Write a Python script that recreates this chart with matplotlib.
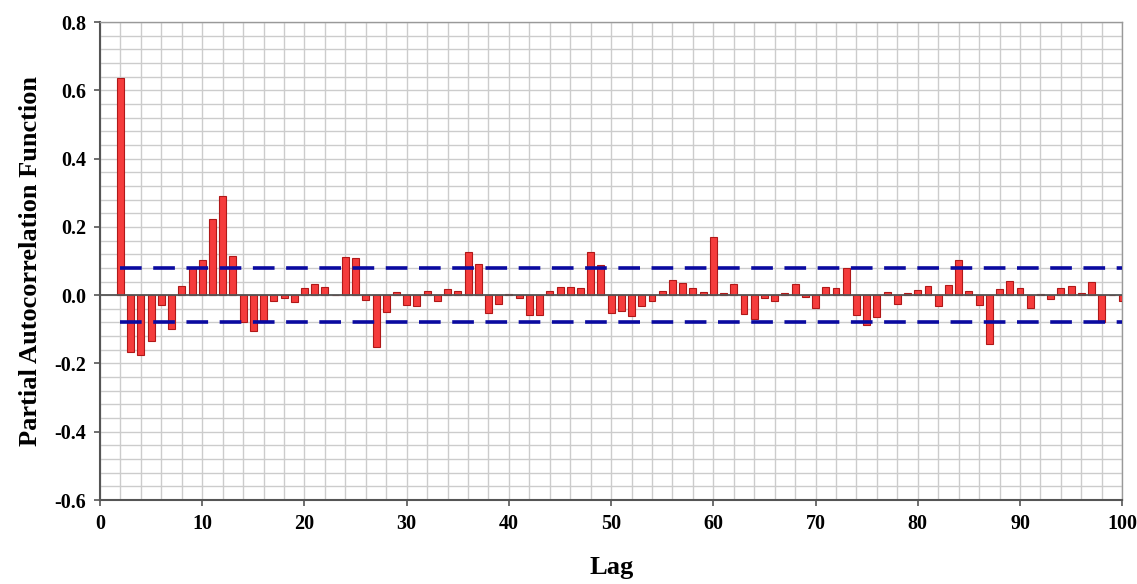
import numpy as np
import matplotlib
matplotlib.use('Agg')
import matplotlib.pyplot as plt
from matplotlib.ticker import MultipleLocator

# lags 2..100, values
lags = list(range(2, 101))
pacf = [0.635, -0.166, -0.174, -0.133, -0.030, -0.099, 0.026, 0.080, 0.104, 0.222,
        0.290, 0.114, -0.079, -0.106, -0.079, -0.016, -0.009, -0.020, 0.021, 0.032,
        0.023, 0.000, 0.111, 0.109, -0.013, -0.152, -0.050, 0.009, -0.029, -0.033,
        0.012, -0.016, 0.019, 0.012, 0.127, 0.092, -0.052, -0.025, 0.004, -0.009,
        -0.057, -0.058, 0.012, 0.025, 0.025, 0.021, 0.126, 0.089, -0.052, -0.047,
        -0.062, -0.033, -0.016, 0.012, 0.045, 0.035, 0.020, 0.009, 0.170, 0.005,
        0.032, -0.055, -0.071, -0.007, -0.018, 0.005, 0.034, -0.005, -0.038, 0.024,
        0.022, 0.081, -0.059, -0.088, -0.064, 0.010, -0.027, 0.005, 0.015, 0.026,
        -0.031, 0.030, 0.103, 0.012, -0.029, -0.144, 0.017, 0.042, 0.022, -0.038,
        0.004, -0.011, 0.021, 0.026, 0.007, 0.038, -0.079, 0.000, -0.018]
conf = 0.08

plt.rcParams['font.family'] = ['Liberation Serif', 'DejaVu Serif']
plt.rcParams['font.weight'] = 'bold'

fig = plt.figure(figsize=(11.37, 5.84), dpi=100)
ax = fig.add_axes([0.088, 0.1438, 0.899, 0.8185])

ax.bar(lags, pacf, width=0.68, color='#f53c3c', edgecolor='#b01818', linewidth=0.8, zorder=3)
ax.axhline(0, color='#555555', linewidth=1.3, zorder=4)
# confidence bounds
ax.plot([2, 100], [conf, conf], color='#0a0aa0', linewidth=2.6, dashes=(6, 3.2), zorder=5)
ax.plot([2, 100], [-conf, -conf], color='#0a0aa0', linewidth=2.6, dashes=(6, 3.2), zorder=5)

ax.set_xlim(0, 100)
ax.set_ylim(-0.6, 0.8)
ax.xaxis.set_major_locator(MultipleLocator(10))
ax.xaxis.set_minor_locator(MultipleLocator(2))
ax.yaxis.set_major_locator(MultipleLocator(0.2))
ax.yaxis.set_minor_locator(MultipleLocator(0.04))
ax.grid(which='both', color='#cccccc', linewidth=1.0, zorder=0)
ax.set_axisbelow(True)
ax.tick_params(which='minor', length=0)
ax.tick_params(which='major', length=4, width=1.2, color='#555555', labelsize=14.5, pad=6)

ax.set_yticks(np.arange(-0.6, 0.81, 0.2))
ax.set_yticklabels(['%.1f' % v for v in np.arange(-0.6, 0.81, 0.2)], fontweight='bold')
ax.set_xticks(range(0, 101, 10))
ax.set_xticklabels([str(v) for v in range(0, 101, 10)], fontweight='bold')

for s in ['left', 'bottom']:
    ax.spines[s].set_color('#555555')
    ax.spines[s].set_linewidth(1.5)
for s in ['top', 'right']:
    ax.spines[s].set_color('#999999')
    ax.spines[s].set_linewidth(1.0)

ax.set_xlabel('Lag', fontsize=19, fontweight='bold', labelpad=16)
ax.set_ylabel('Partial Autocorrelation Function', fontsize=19, fontweight='bold', labelpad=9)

fig.savefig('out.png', dpi=100)
